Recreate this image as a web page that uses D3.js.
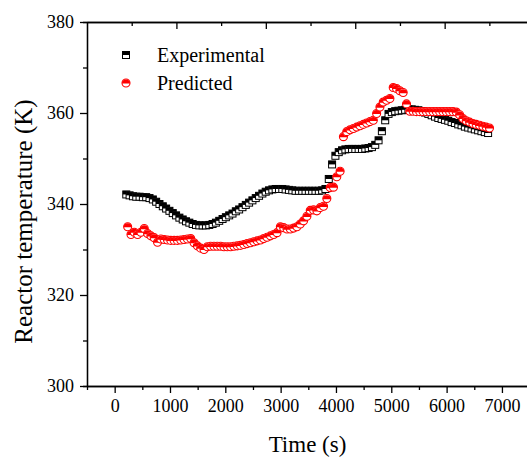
<!DOCTYPE html>
<html lang="en">

<head>
    <meta charset="utf-8" />
    <title>Reactor temperature</title>
    <script src="https://cdn.jsdelivr.net/npm/d3@7"></script>
    <style>
        body { margin: 0; background: #fff; }
        text { font-family: "Liberation Serif", "Times New Roman", serif; fill: #000; }
    </style>
</head>

<body>
    <div id='chart'></div>
</body>
<script>

    // sampling times (s)
    let expStart = 210, predStart = 235, step = 60;

    let experimental = [
        342.1, 341.9, 341.7, 341.6, 341.6, 341.5, 341.5, 341.3, 341.0, 340.5,
        340.0, 339.5, 339.0, 338.5, 338.0, 337.5, 337.0, 336.6, 336.2, 335.9,
        335.6, 335.4, 335.3, 335.3, 335.3, 335.4, 335.6, 335.9, 336.3, 336.7,
        337.1, 337.5, 337.9, 338.4, 338.8, 339.3, 339.8, 340.3, 340.8, 341.3,
        341.8, 342.3, 342.7, 343.0, 343.2, 343.3, 343.3, 343.3, 343.2, 343.1,
        343.0, 342.9, 342.9, 342.9, 342.9, 342.9, 342.9, 342.9, 342.9, 343.0,
        343.3, 345.5, 348.7, 350.6, 351.4, 351.8, 352.0, 352.1, 352.1, 352.1,
        352.1, 352.1, 352.2, 352.3, 352.5, 353.0, 354.0, 356.0, 358.4, 359.8,
        360.2, 360.4, 360.5, 360.6, 360.7, 360.8, 360.8, 360.7, 360.6, 360.4,
        360.1, 359.8, 359.5, 359.2, 358.9, 358.7, 358.5, 358.3, 358.0, 357.8,
        357.5, 357.3, 357.0, 356.8, 356.6, 356.4, 356.2, 356.0, 355.8, 355.6
    ];

    let predicted = [
        335.0, 333.3, 333.8, 333.3, 333.8, 334.6, 333.5, 333.0, 332.6, 331.6,
        332.3, 332.2, 332.1, 332.0, 332.0, 332.0, 332.1, 332.2, 332.3, 332.4,
        331.5, 330.8, 330.3, 330.0, 330.6, 330.7, 330.7, 330.7, 330.7, 330.6,
        330.6, 330.6, 330.7, 330.8, 330.9, 331.1, 331.3, 331.5, 331.7, 331.9,
        332.1, 332.4, 332.7, 333.0, 333.3, 333.7, 335.0, 334.8, 334.5, 334.5,
        334.7, 335.0, 335.6, 336.3, 337.3, 338.6, 338.7, 338.5, 339.2, 339.5,
        341.2, 343.6, 343.7, 346.0, 347.2, 354.8, 355.9, 356.3, 356.6, 356.9,
        357.2, 357.5, 357.8, 358.1, 358.4, 359.9, 361.3, 362.4, 362.8, 363.2,
        365.6, 365.4, 364.9, 364.5, 362.0, 360.4, 360.4, 360.3, 360.3, 360.3,
        360.3, 360.3, 360.3, 360.3, 360.3, 360.3, 360.3, 360.3, 360.3, 360.2,
        359.6, 358.8, 358.3, 358.0, 357.7, 357.5, 357.3, 357.1, 356.9, 356.7
    ];

    let xTicks = [0, 1000, 2000, 3000, 4000, 5000, 6000, 7000],
        xMinor = [500, 1500, 2500, 3500, 4500, 5500, 6500],
        yTicks = [300, 320, 340, 360, 380],
        yMinor = [310, 330, 350, 370];

    let margin = { top: 22, bottom: 75, left: 87, right: 0 };
    let width = 442.6,
        height = 364;

    let svg = d3.select('#chart')
        .append('svg')
        .attr('width', 527)
        .attr('height', 461);

    let g = svg.append('g')
        .attr('transform', 'translate(' + margin.left + ',' + margin.top + ')');

    let x = d3.scaleLinear()
        .domain([-500, 7500])
        .range([0, width]);

    let y = d3.scaleLinear()
        .domain([300, 380])
        .range([height, 0]);

    // top axis in the original has its own tick spacing
    let xTop = d3.scaleLinear()
        .domain([0, 4.95])
        .range([0, width]);

    function styleAxis(sel) {
        sel.attr('font-family', '"Liberation Serif", serif').attr('font-size', 18);
        sel.selectAll('path, line').attr('stroke', '#000').attr('stroke-width', 1.3);
        sel.selectAll('text').attr('fill', '#000');
    }

    // minor ticks first, major axes over them
    g.append('g')
        .attr('transform', 'translate(0,' + height + ')')
        .call(d3.axisBottom(x).tickValues(xMinor).tickSize(4).tickFormat(''))
        .call(styleAxis);
    g.append('g')
        .call(d3.axisLeft(y).tickValues(yMinor).tickSize(4).tickFormat(''))
        .call(styleAxis);

    g.append('g')
        .attr('transform', 'translate(0,' + height + ')')
        .call(d3.axisBottom(x).tickValues(xTicks).tickSize(7).tickSizeOuter(0).tickPadding(6).tickFormat(d3.format('d')))
        .call(styleAxis);
    g.append('g')
        .call(d3.axisLeft(y).tickValues(yTicks).tickSize(7).tickSizeOuter(0).tickPadding(6).tickFormat(d3.format('d')))
        .call(styleAxis);

    g.append('g')
        .call(d3.axisTop(xTop).tickValues([0.5, 1.5, 2.5, 3.5, 4.5]).tickSize(-4).tickSizeOuter(0).tickFormat(''))
        .call(styleAxis);
    g.append('g')
        .call(d3.axisTop(xTop).tickValues([1, 2, 3, 4]).tickSize(-7).tickSizeOuter(0).tickFormat(''))
        .call(styleAxis);

    let expData = experimental.map((v, i) => ({ t: expStart + i * step, v: v }));
    let predData = predicted.map((v, i) => ({ t: predStart + i * step, v: v }));

    let s = 3.5, r = 4;

    function drawSquare(sel) {
        sel.append('rect')
            .attr('x', -s).attr('y', -s).attr('width', 2 * s).attr('height', 2 * s)
            .attr('fill', '#fff').attr('stroke', '#000').attr('stroke-width', 1);
        sel.append('rect')
            .attr('x', -s).attr('y', -s).attr('width', 2 * s).attr('height', s)
            .attr('fill', '#000');
    }

    function drawCircle(sel) {
        sel.append('circle')
            .attr('r', r)
            .attr('fill', '#fff').attr('stroke', '#ff0000').attr('stroke-width', 1.1);
        sel.append('path')
            .attr('d', 'M' + (-r) + ',0.6A' + r + ',' + r + ' 0 0 1 ' + r + ',0.6Z')
            .attr('fill', '#ff0000');
    }

    g.selectAll('.exp')
        .data(expData)
        .enter().append('g')
        .attr('class', 'exp')
        .attr('transform', d => 'translate(' + x(d.t) + ',' + y(d.v) + ')')
        .call(drawSquare);

    g.selectAll('.pred')
        .data(predData)
        .enter().append('g')
        .attr('class', 'pred')
        .attr('transform', d => 'translate(' + x(d.t) + ',' + y(d.v) + ')')
        .call(drawCircle);

    // legend
    let legend = svg.append('g');
    legend.append('g').attr('transform', 'translate(126,55)').call(drawSquare);
    legend.append('g').attr('transform', 'translate(126,83)').call(drawCircle);
    legend.append('text').attr('x', 157).attr('y', 62).style('font-size', '20px').text('Experimental');
    legend.append('text').attr('x', 157).attr('y', 90).style('font-size', '20px').text('Predicted');

    // axis titles
    svg.append('text')
        .attr('x', 307.5).attr('y', 452)
        .attr('text-anchor', 'middle')
        .style('font-size', '23px')
        .text('Time (s)');

    svg.append('text')
        .attr('transform', 'translate(32,221.5) rotate(-90)')
        .attr('text-anchor', 'middle')
        .style('font-size', '25px')
        .text('Reactor temperature (K)');

</script>

</html>
